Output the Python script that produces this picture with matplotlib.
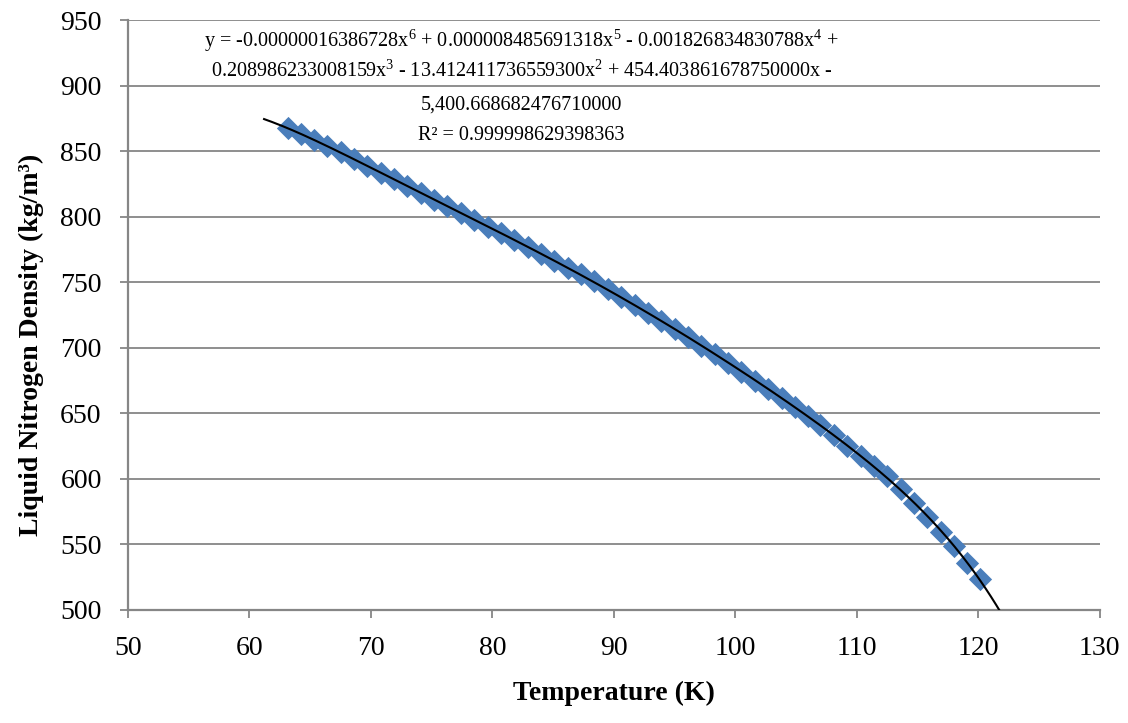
import numpy as np
import matplotlib.pyplot as plt

# saturated liquid nitrogen
temperature = [63.2, 64.2, 65.3, 66.4, 67.5, 68.6, 69.7, 70.8, 71.9, 73.0,
               74.1, 75.2, 76.3, 77.4, 78.5, 79.6, 80.7, 81.8, 82.9, 84.0,
               85.1, 86.2, 87.3, 88.4, 89.5, 90.6, 91.7, 92.8, 93.9, 95.0,
               96.1, 97.2, 98.3, 99.4, 100.5, 101.6, 102.7, 103.8, 104.9, 106.0,
               107.0, 108.1, 109.2, 110.3, 111.4, 112.5, 113.6, 114.7, 115.8, 116.9,
               118.0, 119.1, 120.1]
density = [867.3, 863.1, 858.4, 853.8, 849.1, 844.0, 838.8, 833.7, 828.5, 823.4,
           818.2, 813.1, 808.0, 802.8, 797.6, 792.4, 787.2, 782.0, 776.7, 771.5,
           766.3, 761.1, 755.9, 750.7, 744.9, 738.8, 732.6, 726.4, 720.2, 714.0,
           707.9, 701.7, 695.1, 688.4, 681.7, 675.0, 668.3, 661.6, 654.9, 647.9,
           640.8, 633.1, 625.4, 617.6, 609.9, 602.1, 592.2, 581.4, 570.6, 559.8,
           548.8, 535.8, 524.0]

eq_lines = ['y = -0.00000016386728x$^{6}$ + 0.000008485691318x$^{5}$ - 0.001826834830788x$^{4}$ +',
            '0.208986233008159x$^{3}$ - 13.412411736559300x$^{2}$ + 454.403861678750000x -',
            '5,400.668682476710000',
            'R\u00b2 = 0.999998629398363']

plt.rcParams['font.family'] = ['Liberation Serif', 'DejaVu Serif']
plt.rcParams['mathtext.fontset'] = 'custom'
plt.rcParams['mathtext.rm'] = 'Liberation Serif'
plt.rcParams['mathtext.it'] = 'Liberation Serif:italic'

T = np.array(temperature)
rho = np.array(density)

# 6th order polynomial trendline, like the Excel one
fit = np.polynomial.Polynomial.fit(T, rho, 6)
t_line = np.linspace(T[0] - 2, T[-1] + 5, 300)

fig = plt.figure(figsize=(11.28, 7.23), dpi=100)
ax = fig.add_axes([0.1135, 0.1563, 0.8615, 0.816])

grey = '#868686'
ax.scatter(T, rho, marker='D', s=140, color='#4a7ebb', zorder=3, linewidths=0)
ax.plot(t_line, fit(t_line), color='k', lw=1.5, zorder=4)

ax.set_xlim(50, 130)
ax.set_ylim(500, 950)
ax.set_xticks(np.arange(50, 131, 10))
ax.set_yticks(np.arange(500, 951, 50))
ax.yaxis.grid(True, color=grey, lw=1.3)
ax.set_axisbelow(True)

for side in ['top', 'right']:
    ax.spines[side].set_visible(False)
for side in ['left', 'bottom']:
    ax.spines[side].set_color(grey)
    ax.spines[side].set_linewidth(1.6)
ax.tick_params(colors=grey, labelcolor='k', labelsize=20, length=6, width=1.3, pad=13)

ax.set_xlabel('Temperature (K)', fontsize=20, fontweight='bold', labelpad=14)
ax.set_ylabel('Liquid Nitrogen Density (kg/m\u00b3)', fontsize=20, fontweight='bold')
ax.yaxis.set_label_coords(-0.086, 0.45)

# trendline label, one text per line (baselines in axes fraction)
for line, yb in zip(eq_lines, [0.954, 0.903, 0.849, 0.797]):
    ax.text(0.405, yb, line, transform=ax.transAxes, ha='center', va='baseline', fontsize=14.5)

fig.savefig('out.png', dpi=100)
